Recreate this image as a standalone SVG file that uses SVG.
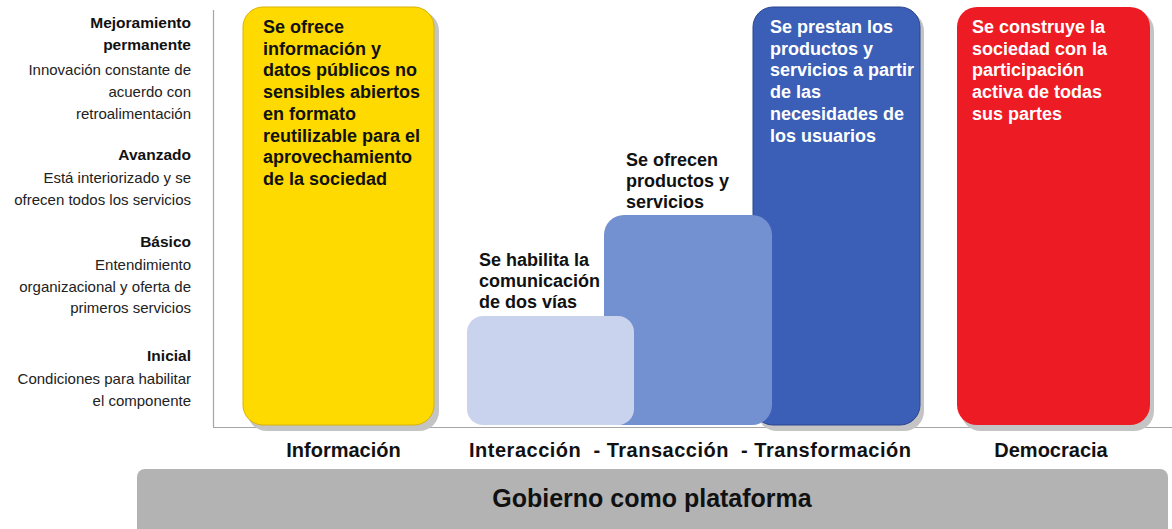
<svg xmlns="http://www.w3.org/2000/svg" width="1172" height="529" viewBox="0 0 1172 529">
<defs>
<style>
.lvl{font-family:"Liberation Sans",Arial,sans-serif;font-size:15px;fill:#222;text-anchor:end}
.lvlb{font-family:"Liberation Sans",Arial,sans-serif;font-size:15.5px;font-weight:bold;fill:#111;text-anchor:end}
.bt{font-family:"Liberation Sans",Arial,sans-serif;font-size:18px;font-weight:bold}
.dark{fill:#111}
.light{fill:#fff}
.cat{font-family:"Liberation Sans",Arial,sans-serif;font-size:20px;font-weight:bold;fill:#111;text-anchor:middle}
.shadow{fill:#c4c4c4}
.axis{stroke:#a6a6a6;stroke-width:1.2;fill:none}
</style>
</defs>
<rect width="1172" height="529" fill="#fff"/>

<g id="levels">
<text class="lvlb" x="191" y="28">Mejoramiento</text>
<text class="lvlb" x="191" y="50">permanente</text>
<text class="lvl" x="191" y="75">Innovación constante de</text>
<text class="lvl" x="191" y="97">acuerdo con</text>
<text class="lvl" x="191" y="119">retroalimentación</text>
<text class="lvlb" x="191" y="160">Avanzado</text>
<text class="lvl" x="191" y="183">Está interiorizado y se</text>
<text class="lvl" x="191" y="205">ofrecen todos los servicios</text>
<text class="lvlb" x="191" y="247">Básico</text>
<text class="lvl" x="191" y="270">Entendimiento</text>
<text class="lvl" x="191" y="292">organizacional y oferta de</text>
<text class="lvl" x="191" y="313">primeros servicios</text>
<text class="lvlb" x="191" y="361">Inicial</text>
<text class="lvl" x="191" y="384">Condiciones para habilitar</text>
<text class="lvl" x="191" y="406">el componente</text>
</g>

<g id="axes">
<line class="axis" x1="213.5" y1="10" x2="213.5" y2="427"/>
<line class="axis" x1="213" y1="427.5" x2="1172" y2="427.5"/>
</g>

<g id="informacion">
<rect class="shadow" x="247" y="11" width="192" height="420" rx="20"/>
<rect x="243" y="7" width="191" height="418" rx="20" fill="#ffda00" stroke="#d9b200" stroke-width="1"/>
<text class="bt dark">
<tspan x="263" y="33">Se ofrece</tspan>
<tspan x="263" y="54.7">información y</tspan>
<tspan x="263" y="76.4">datos públicos no</tspan>
<tspan x="263" y="98.1">sensibles abiertos</tspan>
<tspan x="263" y="119.8">en formato</tspan>
<tspan x="263" y="141.5">reutilizable para el</tspan>
<tspan x="263" y="163.2">aprovechamiento</tspan>
<tspan x="263" y="184.9">de la sociedad</tspan>
</text>
</g>

<g id="transformacion">
<rect class="shadow" x="757" y="11" width="167" height="420" rx="20"/>
<rect x="753" y="7" width="167" height="418" rx="20" fill="#3b5fb6" stroke="#2b4590" stroke-width="1"/>
<text class="bt light">
<tspan x="770" y="33">Se prestan los</tspan>
<tspan x="770" y="54.7">productos y</tspan>
<tspan x="770" y="76.4">servicios a partir</tspan>
<tspan x="770" y="98.1">de las</tspan>
<tspan x="770" y="119.8">necesidades de</tspan>
<tspan x="770" y="141.5">los usuarios</tspan>
</text>
</g>

<g id="transaccion">
<rect x="604" y="215" width="168" height="210" rx="20" fill="#7390d0"/>
<text class="bt dark">
<tspan x="626" y="166">Se ofrecen</tspan>
<tspan x="626" y="187">productos y</tspan>
<tspan x="626" y="208">servicios</tspan>
</text>
</g>

<g id="interaccion">
<rect x="467" y="316" width="167" height="109" rx="16" fill="#c9d3ee"/>
<text class="bt dark">
<tspan x="479" y="266">Se habilita la</tspan>
<tspan x="479" y="287">comunicación</tspan>
<tspan x="479" y="308">de dos vías</tspan>
</text>
</g>

<g id="democracia">
<rect class="shadow" x="961" y="11" width="193" height="420" rx="20"/>
<rect x="957" y="7" width="193" height="418" rx="20" fill="#ed1c24"/>
<text class="bt light">
<tspan x="972" y="33">Se construye la</tspan>
<tspan x="972" y="54.7">sociedad con la</tspan>
<tspan x="972" y="76.4">participación</tspan>
<tspan x="972" y="98.1">activa de todas</tspan>
<tspan x="972" y="119.8">sus partes</tspan>
</text>
</g>

<g id="categories">
<text class="cat" x="343.5" y="457">Información</text>
<text class="cat" x="690" y="457" textLength="442" lengthAdjust="spacing" xml:space="preserve">Interacción  - Transacción  - Transformación</text>
<text class="cat" x="1051" y="457">Democracia</text>
</g>

<g id="plataforma">
<rect x="137" y="469" width="1031" height="70" rx="8" fill="#b3b3b3"/>
<text x="652" y="507" font-family="Liberation Sans, Arial, sans-serif" font-size="25" font-weight="bold" fill="#111" text-anchor="middle">Gobierno como plataforma</text>
</g>
</svg>
